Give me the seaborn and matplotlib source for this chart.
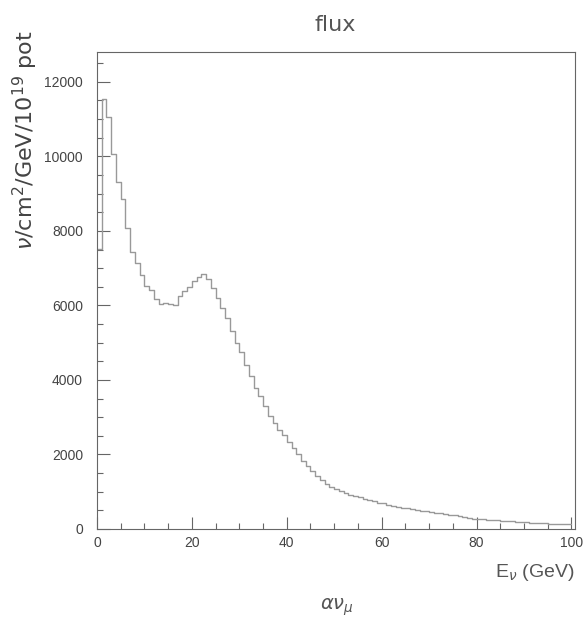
import numpy as np
import seaborn as sns
import matplotlib.pyplot as plt
from matplotlib.ticker import MultipleLocator

# flux per 1 GeV bin, E = 0..100 GeV
flux = [7520, 11550, 11050, 10050, 9300, 8850, 8080, 7440, 7150, 6810,
        6525, 6420, 6170, 6045, 6075, 6040, 6000, 6240, 6390, 6505,
        6665, 6755, 6840, 6700, 6460, 6195, 5925, 5655, 5300, 4990,
        4745, 4405, 4110, 3780, 3570, 3300, 3035, 2840, 2660, 2520,
        2330, 2170, 2000, 1830, 1690, 1550, 1420, 1310, 1200, 1120,
        1060, 1010, 965, 925, 885, 850, 810, 775, 740, 710,
        685, 655, 625, 600, 575, 555, 535, 515, 495, 470,
        450, 435, 420, 400, 380, 365, 345, 320, 300, 280,
        270, 260, 250, 240, 230, 222, 214, 205, 195, 185,
        178, 170, 165, 158, 150, 145, 140, 135, 130, 125]
bin_low = np.arange(len(flux))
energy = bin_low + 0.5

sns.set_style('ticks')
plt.rcParams['font.family'] = ['Liberation Sans', 'DejaVu Sans']
plt.rcParams['mathtext.fontset'] = 'dejavusans'

fig = plt.figure(figsize=(5.87, 6.21), dpi=100)
ax = fig.add_axes([97/587, 1-529/621, 478/587, 477/621])
sns.histplot(x=energy, weights=flux, bins=100, binrange=(0, 100),
             element='step', fill=False, color='#999999', linewidth=1.0, ax=ax)
ax.set_xlim(0, 100.75)
ax.set_ylim(0, 12800)

ax.xaxis.set_major_locator(MultipleLocator(20))
ax.xaxis.set_minor_locator(MultipleLocator(5))
ax.yaxis.set_major_locator(MultipleLocator(2000))
ax.yaxis.set_minor_locator(MultipleLocator(500))
ax.tick_params(which='both', direction='in', color='#666666', labelcolor='#444444', labelsize=10)
ax.tick_params(which='major', length=9, width=0.8)
ax.tick_params(which='minor', length=4.5, width=0.8)
ax.tick_params(axis='y', pad=10)
ax.tick_params(axis='x', pad=5)
for s in ax.spines.values():
    s.set_color('#666666')
    s.set_linewidth(0.8)

ax.set_ylabel(r'$\nu$/cm$^{2}$/GeV/10$^{19}$ pot', fontsize=16, color='#444444',
              loc='top', family='DejaVu Sans')
ax.yaxis.set_label_coords(-0.12, 1.046)
ax.set_xlabel(r'E$_{\nu}$ (GeV)', fontsize=14, color='#555555', loc='right')
ax.xaxis.set_label_coords(1.0, -0.07)

fig.text(335/587, 1-25/621, 'flux', fontsize=16, color='#555555', ha='center', va='center',
         family='DejaVu Sans')
fig.text(337/587, 1-607/621, r'$\alpha\nu_{\mu}$', fontsize=14, color='#555555', ha='center', va='center')

fig.savefig('out.png', dpi=100)
